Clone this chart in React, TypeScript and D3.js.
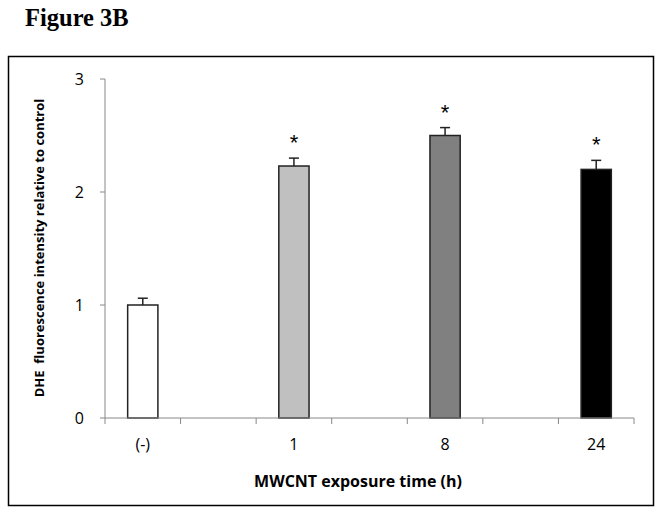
import React from "react";
import * as d3 from "d3";

const categories = ["(-)", "", "1", "", "8", "", "24"];
const values = [1.0, null, 2.23, null, 2.5, null, 2.2];
const errors = [0.06, null, 0.07, null, 0.07, null, 0.08];
const fills = ["#ffffff", null, "#c0c0c0", null, "#808080", null, "#000000"];
const significant = [false, false, true, false, true, false, true];
const yTicks = [0, 1, 2, 3];

const W = 662, H = 514;
const plot = { left: 105, right: 634, top: 79, bottom: 418 };
const font = "'Open Sans', 'Liberation Sans', sans-serif";

export default function App() {
  const x = d3.scaleBand<number>().domain(d3.range(categories.length)).range([plot.left, plot.right]).paddingInner(0).paddingOuter(0);
  const y = d3.scaleLinear().domain([0, 3]).range([plot.bottom, plot.top]);
  const bw = x.bandwidth() * 0.4;
  const tickXs = d3.range(categories.length + 1).map(i => plot.left + i * x.step());
  return (
    <svg width={W} height={H} style={{ position: "absolute", left: 0, top: 0, background: "#fff" }}>
      <text x={25} y={26} fontFamily="'Liberation Serif', serif" fontWeight="bold" fontSize={24.5}>Figure 3B</text>
      <rect x={8.5} y={56.5} width={645} height={449} fill="none" stroke="#000" strokeWidth={1.5} />
      {/* y axis */}
      <line x1={plot.left} x2={plot.left} y1={y(3)} y2={y(0)} stroke="#888" strokeWidth={1} />
      {yTicks.map(t => (
        <g key={t}>
          <line x1={plot.left - 5} x2={plot.left} y1={y(t)} y2={y(t)} stroke="#888" />
          <text x={84} y={y(t)} dy="0.35em" textAnchor="end" fontFamily={font} fontSize={16}>{t}</text>
        </g>
      ))}
      {/* bars */}
      {values.map((v, i) => v == null ? null : (
        <g key={i}>
          <rect x={x(i)! + x.bandwidth() / 2 - bw / 2} y={y(v)} width={bw} height={y(0) - y(v)} fill={fills[i]!} stroke="#222" strokeWidth={1.5} />
          <line x1={x(i)! + x.bandwidth() / 2} x2={x(i)! + x.bandwidth() / 2} y1={y(v)} y2={y(v + errors[i]!)} stroke="#222" strokeWidth={1.5} />
          <line x1={x(i)! + x.bandwidth() / 2 - 5} x2={x(i)! + x.bandwidth() / 2 + 5} y1={y(v + errors[i]!)} y2={y(v + errors[i]!)} stroke="#222" strokeWidth={1.5} />
          {significant[i] && (
            <text x={x(i)! + x.bandwidth() / 2} y={y(v + errors[i]!) - 8} textAnchor="middle" fontFamily="'Liberation Sans', sans-serif" fontSize={22}>*</text>
          )}
        </g>
      ))}
      {/* x axis */}
      <line x1={plot.left} x2={plot.right} y1={plot.bottom} y2={plot.bottom} stroke="#888" />
      {tickXs.map((tx, i) => (
        <line key={i} x1={tx} x2={tx} y1={plot.bottom} y2={plot.bottom + 6} stroke="#888" />
      ))}
      {categories.map((c, i) => c ? (
        <text key={i} x={x(i)! + x.bandwidth() / 2} y={450} textAnchor="middle" fontFamily={font} fontSize={16}>{c}</text>
      ) : null)}
      <text x={358} y={487} textAnchor="middle" fontFamily={font} fontWeight="bold" fontSize={16}>MWCNT  exposure time (h)</text>
      <text transform={`translate(44,248) rotate(-90)`} textAnchor="middle" fontFamily={font} fontWeight="bold" fontSize={13} style={{ whiteSpace: "pre" }}>DHE  fluorescence intensity relative to control</text>
    </svg>
  );
}
